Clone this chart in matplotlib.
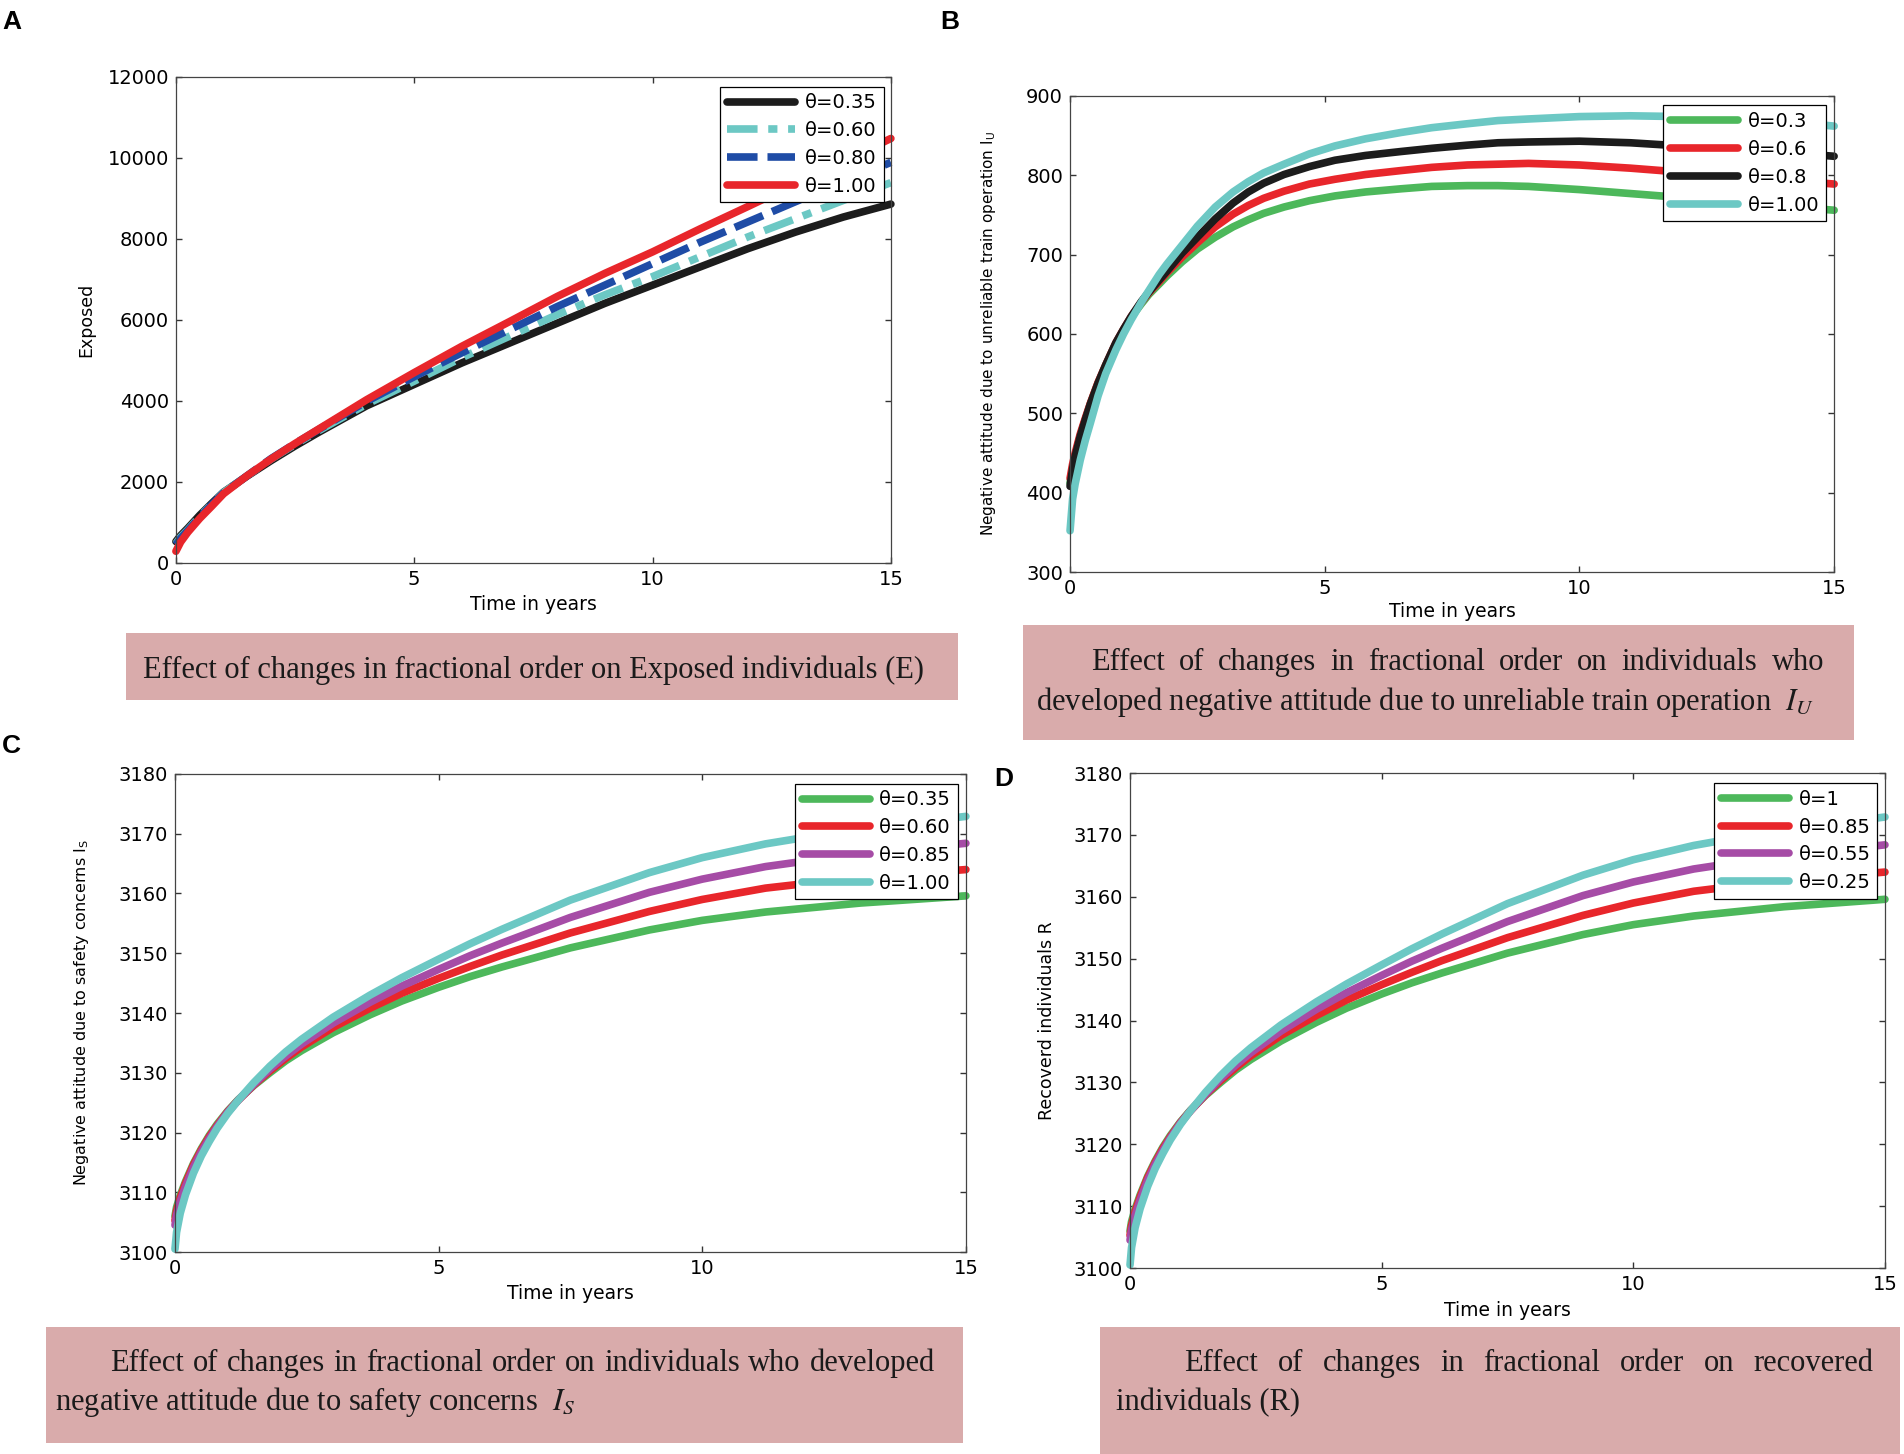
import matplotlib.pyplot as plt
from matplotlib.patches import Rectangle

plt.rcParams['font.family'] = ['DejaVu Sans']

# ---- panel A: exposed individuals E ----
t_a = [0, 0.1, 0.25, 0.5, 0.75, 1, 1.5, 2, 2.5, 3, 4, 5, 6, 7, 8, 9, 10, 11, 12, 13, 14, 15]
e_035 = [530, 680, 860, 1180, 1470, 1750, 2150, 2530, 2890, 3230, 3880, 4410, 4940, 5430, 5920,
         6410, 6860, 7310, 7760, 8170, 8540, 8860]
e_060 = [480, 640, 820, 1150, 1450, 1740, 2160, 2570, 2930, 3270, 3920, 4490, 5070, 5600, 6130,
         6620, 7070, 7560, 8050, 8500, 8950, 9390]
e_080 = [450, 610, 800, 1130, 1440, 1730, 2160, 2580, 2950, 3300, 3990, 4600, 5190, 5760, 6330,
         6860, 7390, 7920, 8420, 8920, 9410, 9890]
e_100 = [290, 520, 760, 1100, 1400, 1710, 2160, 2570, 2950, 3310, 4030, 4700, 5350, 5960, 6580,
         7150, 7680, 8250, 8800, 9360, 9920, 10480]
labels_a = ['θ=0.35', 'θ=0.60', 'θ=0.80', 'θ=1.00']

# ---- panel B: negative attitude, unreliable train operation I_U ----
t_b = [0, 0.05, 0.1, 0.2, 0.3, 0.4, 0.55, 0.7, 0.9, 1.05, 1.2, 1.4, 1.55, 1.75, 1.9, 2.2, 2.5,
       2.85, 3.2, 3.5, 3.8, 4.2, 4.7, 5.2, 5.8, 6.5, 7.1, 7.8, 8.4, 9, 10, 11, 12, 13, 14, 15]
iu_03 = [412, 432, 447, 472, 492, 512, 538, 560, 588, 605, 621, 638, 650, 663, 673, 691, 707,
         722, 735, 744, 752, 760, 768, 774, 779, 783, 786, 787, 787, 786, 782, 777, 772, 767, 761, 756]
iu_06 = [418, 436, 450, 474, 494, 513, 539, 561, 589, 606, 622, 640, 652, 666, 677, 697, 715,
         735, 751, 762, 771, 780, 789, 795, 801, 806, 810, 813, 814, 815, 813, 809, 804, 799, 794, 789]
iu_08 = [408, 430, 446, 471, 492, 512, 538, 561, 589, 606, 622, 641, 653, 668, 679, 702, 722,
         745, 765, 779, 790, 801, 811, 819, 825, 830, 834, 838, 841, 842, 843, 841, 837, 833, 829, 824]
iu_10 = [352, 392, 411, 441, 466, 488, 522, 550, 580, 600, 618, 640, 655, 675, 688, 712, 736,
         760, 779, 792, 803, 814, 827, 837, 846, 854, 860, 865, 869, 871, 874, 875, 874, 872, 868, 862]
labels_b = ['θ=0.3', 'θ=0.6', 'θ=0.8', 'θ=1.00']

# ---- panel C / D: I_S and R (the two plots show the same curves) ----
t_c = [0, 0.03, 0.1, 0.2, 0.35, 0.5, 0.65, 0.8, 1.0, 1.2, 1.5, 1.8, 2.1, 2.4, 3, 3.7, 4.3, 5,
       5.6, 6.2, 7.5, 9, 10, 11.2, 13, 15]
is_green = [3106.0, 3107.5, 3109.5, 3111.8, 3114.8, 3117.3, 3119.5, 3121.4, 3123.6, 3125.5,
            3127.9, 3130.0, 3132.0, 3133.7, 3136.7, 3139.7, 3142.0, 3144.3, 3146.1, 3147.7,
            3150.9, 3153.9, 3155.5, 3156.9, 3158.4, 3159.6]
is_red = [3105.3, 3106.9, 3109.1, 3111.5, 3114.6, 3117.1, 3119.3, 3121.2, 3123.5, 3125.4,
          3128.0, 3130.3, 3132.4, 3134.3, 3137.6, 3140.8, 3143.3, 3145.8, 3147.8, 3149.7,
          3153.4, 3157.0, 3159.0, 3160.9, 3162.7, 3164.0]
is_purple = [3104.5, 3106.2, 3108.5, 3111.0, 3114.2, 3116.8, 3119.0, 3121.0, 3123.4, 3125.4,
             3128.1, 3130.6, 3132.8, 3134.8, 3138.3, 3141.8, 3144.5, 3147.3, 3149.6, 3151.7,
             3156.0, 3160.2, 3162.4, 3164.5, 3166.7, 3168.4]
is_cyan = [3100.5, 3103.3, 3106.5, 3109.6, 3113.2, 3116.1, 3118.5, 3120.7, 3123.2, 3125.4,
           3128.4, 3131.1, 3133.5, 3135.6, 3139.3, 3143.0, 3145.9, 3149.0, 3151.6, 3154.0,
           3158.9, 3163.5, 3166.0, 3168.3, 3170.9, 3172.9]
labels_c = ['θ=0.35', 'θ=0.60', 'θ=0.85', 'θ=1.00']
labels_d = ['θ=1', 'θ=0.85', 'θ=0.55', 'θ=0.25']

BLACK = '#1c1c1c'
CYAN = '#6cc8c4'
BLUE = '#1f4ca6'
RED = '#e8262b'
GREEN = '#4db85b'
PURPLE = '#a64ca6'

fig = plt.figure(figsize=(19.04, 14.54), dpi=100)


def panel(rect, t, series, colors, dashes, labels, ylim, ystep, ylabel,
          ylab_x, xlab_y, ylab_size):
    ax = fig.add_axes(rect)
    for y, c, d, lab in zip(series, colors, dashes, labels):
        ln, = ax.plot(t, y, color=c, lw=5.5, label=lab, clip_on=False,
                      solid_capstyle='round', solid_joinstyle='round',
                      dash_capstyle='butt')
        if d is not None:
            ln.set_dashes(d)
    ax.set_xlim(0, 15)
    ax.set_ylim(*ylim)
    ax.set_xticks([0, 5, 10, 15])
    ax.set_yticks(list(range(ylim[0], ylim[1] + 1, ystep)))
    ax.tick_params(direction='in', top=True, right=True, length=4, width=1,
                   labelsize=14, pad=5, color='#333333')
    for s in ax.spines.values():
        s.set_color('#444444')
        s.set_linewidth(0.9)
    ax.set_xlabel('Time in years', fontsize=13.5, va='center')
    ax.xaxis.set_label_coords(0.5, xlab_y)
    ax.set_ylabel(ylabel, fontsize=ylab_size, va='center')
    ax.yaxis.set_label_coords(ylab_x, 0.5)
    leg = ax.legend(loc='upper right', bbox_to_anchor=(0.99, 0.98), borderaxespad=0,
                    fontsize=14, handlelength=3.5, handletextpad=0.5,
                    labelspacing=0.45, borderpad=0.35, fancybox=False,
                    framealpha=1, edgecolor='black')
    leg.get_frame().set_linewidth(0.9)
    return ax


panel([0.0924, 0.6128, 0.3755, 0.3343], t_a, [e_035, e_060, e_080, e_100],
      [BLACK, CYAN, BLUE, RED], [None, (4, 1.4, 1.2, 1.4), (4, 1.3), None],
      labels_a, (0, 12000), 2000, 'Exposed', -0.126, -0.086, 12.5)

panel([0.5620, 0.6066, 0.4013, 0.3274], t_b, [iu_03, iu_06, iu_08, iu_10],
      [GREEN, RED, BLACK, CYAN], [None] * 4, labels_b, (300, 900), 100,
      'Negative attitude due to unreliable train operation I$_\\mathregular{U}$',
      -0.107, -0.084, 11)

panel([0.0919, 0.1389, 0.4154, 0.3288], t_c, [is_green, is_red, is_purple, is_cyan],
      [GREEN, RED, PURPLE, CYAN], [None] * 4, labels_c, (3100, 3180), 10,
      'Negative attitude due to safety concerns I$_\\mathregular{S}$',
      -0.1176, -0.086, 11.5)

panel([0.5935, 0.1279, 0.3965, 0.3404], t_c, [is_green, is_red, is_purple, is_cyan],
      [GREEN, RED, PURPLE, CYAN], [None] * 4, labels_d, (3100, 3180), 10,
      'Recoverd individuals R', -0.110, -0.085, 12.5)

# panel letters
for x, y, s in [(0.001, 0.985, 'A'), (0.494, 0.985, 'B'),
                (0.001, 0.487, 'C'), (0.522, 0.464, 'D')]:
    fig.text(x, y, s, fontsize=19, fontweight='bold', family='Liberation Sans',
             va='center', ha='left')

# caption boxes
BOX = '#d9abab'
for x, y, w, h in [(0.0662, 0.5186, 0.437, 0.0461), (0.5373, 0.491, 0.4364, 0.0791),
                   (0.0242, 0.0076, 0.4816, 0.0798), (0.5777, 0.0, 0.42, 0.0873)]:
    fig.patches.append(Rectangle((x, y), w, h, transform=fig.transFigure,
                                 facecolor=BOX, edgecolor='none', zorder=0))

CAP = dict(fontsize=22, family='Liberation Serif', color='#1a1a1a',
           va='baseline', ha='left', math_fontfamily='stix')
renderer = fig.canvas.get_renderer()


def justified(words, x0, x1, y):
    texts = [fig.text(x0, y, w, **CAP) for w in words]
    widths = [t.get_window_extent(renderer).width / fig.bbox.width for t in texts]
    gap = (x1 - x0 - sum(widths)) / (len(words) - 1)
    x = x0
    for t, w in zip(texts, widths):
        t.set_x(x)
        x += w + gap


fig.text(0.075, 0.534, 'Effect of changes in fractional order on Exposed individuals (E)', **CAP)

justified('Effect of changes in fractional order on individuals who'.split(),
          0.573, 0.958, 0.539)
fig.text(0.544, 0.512, 'developed negative attitude due to unreliable train operation  $I_U$', **CAP)

justified('Effect of changes in fractional order on individuals who developed'.split(),
          0.058, 0.491, 0.057)
fig.text(0.029, 0.030, 'negative attitude due to safety concerns  $I_S$', **CAP)

justified('Effect of changes in fractional order on recovered'.split(),
          0.622, 0.984, 0.057)
fig.text(0.586, 0.030, 'individuals (R)', **CAP)

fig.savefig('out.png', dpi=100)
